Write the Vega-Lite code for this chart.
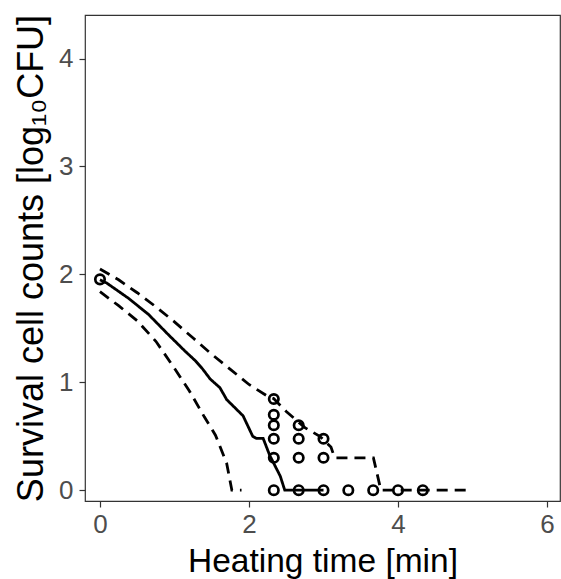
{
  "$schema": "https://vega.github.io/schema/vega-lite/v6.json",
  "width": 475,
  "height": 486,
  "autosize": "none",
  "padding": {"left": 85, "top": 15, "right": 1, "bottom": 78},
  "background": "white",
  "config": {
    "view": {"stroke": "#333333", "strokeWidth": 1.2},
    "font": "Liberation Sans"
  },
  "datasets": {
    "curves": [
      {"series": "median", "i": 1, "t": 0.0, "y": 1.95},
      {"series": "median", "i": 2, "t": 0.09, "y": 1.92},
      {"series": "median", "i": 3, "t": 0.38, "y": 1.78},
      {"series": "median", "i": 4, "t": 0.65, "y": 1.63},
      {"series": "median", "i": 5, "t": 0.92, "y": 1.44},
      {"series": "median", "i": 6, "t": 1.14, "y": 1.29},
      {"series": "median", "i": 7, "t": 1.28, "y": 1.2},
      {"series": "median", "i": 8, "t": 1.37, "y": 1.13},
      {"series": "median", "i": 9, "t": 1.48, "y": 1.03},
      {"series": "median", "i": 10, "t": 1.61, "y": 0.95},
      {"series": "median", "i": 11, "t": 1.7, "y": 0.84},
      {"series": "median", "i": 12, "t": 1.92, "y": 0.69},
      {"series": "median", "i": 13, "t": 2.05, "y": 0.5},
      {"series": "median", "i": 14, "t": 2.1, "y": 0.48},
      {"series": "median", "i": 15, "t": 2.19, "y": 0.48},
      {"series": "median", "i": 16, "t": 2.28, "y": 0.32},
      {"series": "median", "i": 17, "t": 2.42, "y": 0.13},
      {"series": "median", "i": 18, "t": 2.48, "y": 0.0},
      {"series": "median", "i": 19, "t": 3.0, "y": 0.0},
      {"series": "upper", "i": 1, "t": 0.0, "y": 2.05},
      {"series": "upper", "i": 2, "t": 0.25, "y": 1.95},
      {"series": "upper", "i": 3, "t": 0.5, "y": 1.83},
      {"series": "upper", "i": 4, "t": 0.75, "y": 1.7},
      {"series": "upper", "i": 5, "t": 1.0, "y": 1.56},
      {"series": "upper", "i": 6, "t": 1.25, "y": 1.41},
      {"series": "upper", "i": 7, "t": 1.5, "y": 1.26},
      {"series": "upper", "i": 8, "t": 1.75, "y": 1.12},
      {"series": "upper", "i": 9, "t": 2.0, "y": 0.98},
      {"series": "upper", "i": 10, "t": 2.25, "y": 0.87},
      {"series": "upper", "i": 11, "t": 2.33, "y": 0.85},
      {"series": "upper", "i": 12, "t": 2.5, "y": 0.73},
      {"series": "upper", "i": 13, "t": 2.75, "y": 0.58},
      {"series": "upper", "i": 14, "t": 2.95, "y": 0.5},
      {"series": "upper", "i": 15, "t": 3.1, "y": 0.4},
      {"series": "upper", "i": 16, "t": 3.15, "y": 0.3},
      {"series": "upper", "i": 17, "t": 3.67, "y": 0.3},
      {"series": "upper", "i": 18, "t": 3.77, "y": 0.0},
      {"series": "upper", "i": 19, "t": 4.92, "y": 0.0},
      {"series": "lower", "i": 1, "t": 0.0, "y": 1.84},
      {"series": "lower", "i": 2, "t": 0.25, "y": 1.71},
      {"series": "lower", "i": 3, "t": 0.5, "y": 1.57},
      {"series": "lower", "i": 4, "t": 0.75, "y": 1.38},
      {"series": "lower", "i": 5, "t": 1.0, "y": 1.13},
      {"series": "lower", "i": 6, "t": 1.2, "y": 0.92},
      {"series": "lower", "i": 7, "t": 1.4, "y": 0.68},
      {"series": "lower", "i": 8, "t": 1.55, "y": 0.51},
      {"series": "lower", "i": 9, "t": 1.7, "y": 0.25},
      {"series": "lower", "i": 10, "t": 1.77, "y": 0.0},
      {"series": "lower", "i": 11, "t": 1.9, "y": 0.0}
    ],
    "obs": [
      {"t": 0.0, "y": 1.954},
      {"t": 2.333, "y": 0.845},
      {"t": 2.333, "y": 0.699},
      {"t": 2.333, "y": 0.602},
      {"t": 2.333, "y": 0.477},
      {"t": 2.333, "y": 0.301},
      {"t": 2.333, "y": 0.0},
      {"t": 2.667, "y": 0.602},
      {"t": 2.667, "y": 0.477},
      {"t": 2.667, "y": 0.301},
      {"t": 2.667, "y": 0.0},
      {"t": 3.0, "y": 0.477},
      {"t": 3.0, "y": 0.301},
      {"t": 3.0, "y": 0.0},
      {"t": 3.333, "y": 0.0},
      {"t": 3.667, "y": 0.0},
      {"t": 4.0, "y": 0.0},
      {"t": 4.333, "y": 0.0}
    ]
  },
  "encoding": {
    "x": {
      "field": "t", "type": "quantitative",
      "scale": {"domain": [-0.201, 6.174], "nice": false, "zero": false},
      "axis": {
        "values": [0, 2, 4, 6], "grid": false, "domain": false,
        "tickColor": "#333333", "tickSize": 6, "tickWidth": 1.2,
        "labelFontSize": 26, "labelColor": "#4D4D4D", "labelPadding": 4, "labelFlush": false,
        "title": "Heating time [min]", "titleFontSize": 33.5, "titleFontWeight": "normal",
        "titleColor": "black", "titleBaseline": "alphabetic", "titleY": 70
      }
    },
    "y": {
      "field": "y", "type": "quantitative",
      "scale": {"domain": [-0.1, 4.404], "nice": false, "zero": false},
      "axis": {
        "values": [0, 1, 2, 3, 4], "grid": false, "domain": false,
        "tickColor": "#333333", "tickSize": 6, "tickWidth": 1.2,
        "labelFontSize": 26, "labelColor": "#4D4D4D", "labelPadding": 6, "labelFlush": false,
        "title": "Survival cell counts [log₁₀CFU]", "titleFontSize": 36, "titleFontWeight": "normal",
        "titleColor": "black", "titleBaseline": "alphabetic", "titleX": -43, "titleY": 243, "titleAngle": 270
      }
    }
  },
  "layer": [
    {
      "data": {"name": "curves"},
      "mark": {"type": "line", "strokeWidth": 2.8, "color": "black", "clip": true},
      "encoding": {
        "detail": {"field": "series", "type": "nominal"},
        "order": {"field": "i", "type": "quantitative"},
        "strokeDash": {
          "field": "series", "type": "nominal",
          "scale": {"domain": ["lower", "median", "upper"], "range": [[11, 7], [1, 0], [11, 7]]},
          "legend": null
        }
      }
    },
    {
      "data": {"name": "obs"},
      "mark": {"type": "point", "shape": "circle", "filled": false, "size": 88, "strokeWidth": 2.7, "color": "black", "opacity": 1},
      "encoding": {}
    }
  ]
}
